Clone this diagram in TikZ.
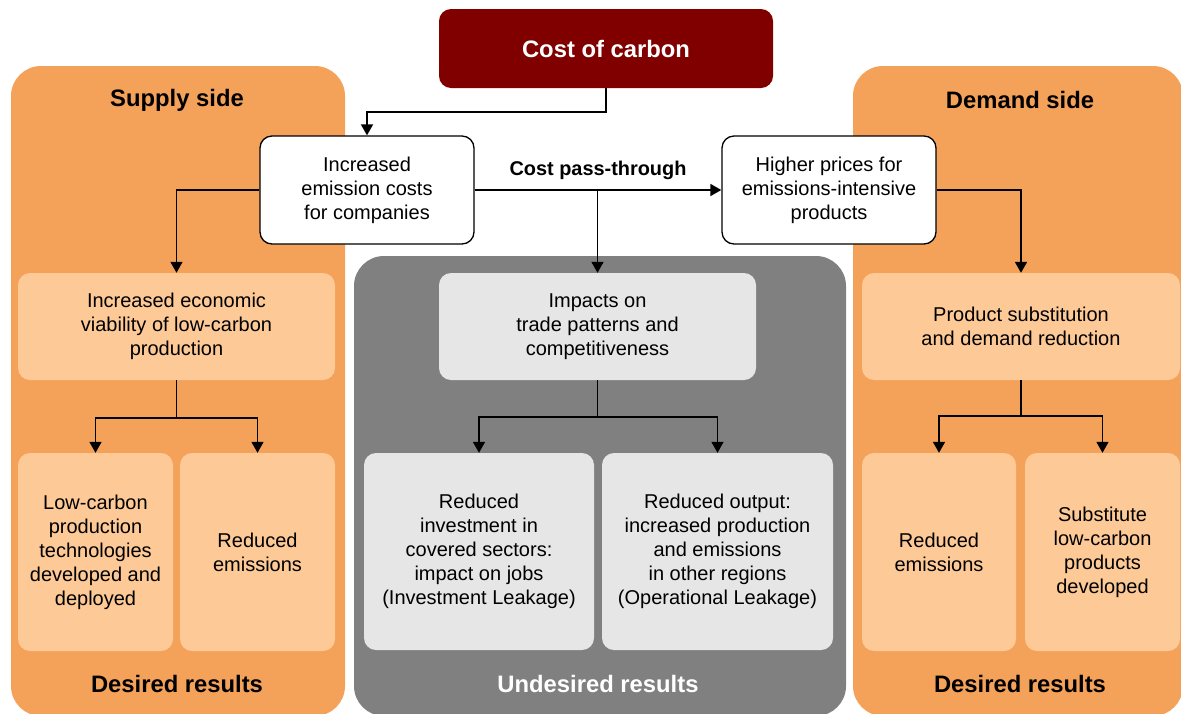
\documentclass[tikz,border=0pt]{standalone}
\usepackage{fontspec}
\setmainfont{Liberation Sans}
\usetikzlibrary{arrows.meta,calc}
\definecolor{darkred}{HTML}{800000}
\definecolor{panelorange}{HTML}{F4A259}
\definecolor{lightorange}{HTML}{FDC996}
\definecolor{panelgrey}{HTML}{808080}
\definecolor{lightgrey}{HTML}{E6E6E6}
\tikzset{
  box/.style args={#1x#2}{rectangle, minimum width=#1pt, minimum height=#2pt, inner sep=0pt, align=center},
  bodytext/.style={font=\fontsize{20}{24}\selectfont},
  panel/.style={draw=none, rounded corners=30pt},
  whitebox/.style={fill=white, draw=black, line width=1.3pt, rounded corners=12pt, bodytext},
  orangebox/.style={fill=lightorange, rounded corners=12pt, bodytext},
  greybox/.style={fill=lightgrey, rounded corners=12pt, bodytext},
  title/.style={font=\fontsize{23.8}{28}\selectfont\bfseries},
  arr/.style={line width=1.7pt, -{Triangle[length=11pt,width=12pt]}},
  plain/.style={line width=1.7pt}
}
\begin{document}
\begin{tikzpicture}[x=1pt,y=-1pt]
\useasboundingbox (0,0) rectangle (1181,713);
% panels
\node[panel, fill=panelorange, box=334x650] (supply) at (178,391) {};
\node[panel, fill=panelorange, box=330x650] (demand) at (1018,391) {};
\node[panel, fill=panelgrey, box=492x460] (undes) at (600,486) {};
% titles
\node[title] (supplyT) at (177,100) {Supply side};
\node[title] (demandT) at (1020,100) {Demand side};
\node[title] (desL) at (177,684) {Desired results};
\node[title, text=white] (undesT) at (598,684) {Undesired results};
\node[title] (desR) at (1020,684) {Desired results};
% top
\node[box=334x79, fill=darkred, rounded corners=12pt, text=white, font=\fontsize{23.8}{28}\selectfont\bfseries] (coc) at (606,48.5) {Cost of carbon};
\node[box=214x108, whitebox] (iec) at (367,190) {Increased\\emission costs\\for companies};
\node[box=214x108, whitebox] (hp) at (829,190) {Higher prices for\\emissions-intensive\\products};
% supply side
\node[box=317x107, orangebox] (viab) at (176.5,326.5) {Increased economic\\viability of low-carbon\\production};
\node[box=155x198, orangebox] (lc) at (95.5,552) {Low-carbon\\production\\technologies\\developed and\\deployed};
\node[box=155x198, orangebox] (re1) at (257.5,552) {Reduced\\emissions};
% middle
\node[box=317x107, greybox] (imp) at (597.5,326.5) {Impacts on\\trade patterns and\\competitiveness};
\node[box=230x197, greybox] (ri) at (479,551.5) {Reduced\\investment in\\covered sectors:\\impact on jobs\\(Investment Leakage)};
\node[box=231x197, greybox] (ro) at (717.5,551.5) {Reduced output:\\increased production\\and emissions\\in other regions\\(Operational Leakage)};
% demand side
\node[box=318x107, orangebox] (ps) at (1021,326.5) {Product substitution\\and demand reduction};
\node[box=154x198, orangebox] (re2) at (939,552) {Reduced\\emissions};
\node[box=155x198, orangebox] (sub) at (1102.5,552) {Substitute\\low-carbon\\products\\developed};
% connectors
\draw[arr] (coc.south) -- ++(0,24) -| (iec.north);
\draw[arr] (iec.east) -- node[above=6pt, font=\fontsize{19.9}{24}\selectfont\bfseries] (cpt) {Cost pass-through} (hp.west);
\draw[arr] (imp.north |- iec.east) -- (imp.north);
\draw[arr] (iec.west) -| (viab.north);
\draw[arr] (hp.east) -| (ps.north);
\draw[plain] (viab.south) -- ++(0,38) coordinate (vj);
\draw[arr] (vj) -| (lc.north);
\draw[arr] (vj) -| (re1.north);
\draw[plain] (imp.south) -- ++(0,37) coordinate (ij);
\draw[arr] (ij) -| (ri.north);
\draw[arr] (ij) -| (ro.north);
\draw[plain] (ps.south) -- ++(0,36) coordinate (pj);
\draw[arr] (pj) -| (re2.north);
\draw[arr] (pj) -| (sub.north);
\end{tikzpicture}
\end{document}
